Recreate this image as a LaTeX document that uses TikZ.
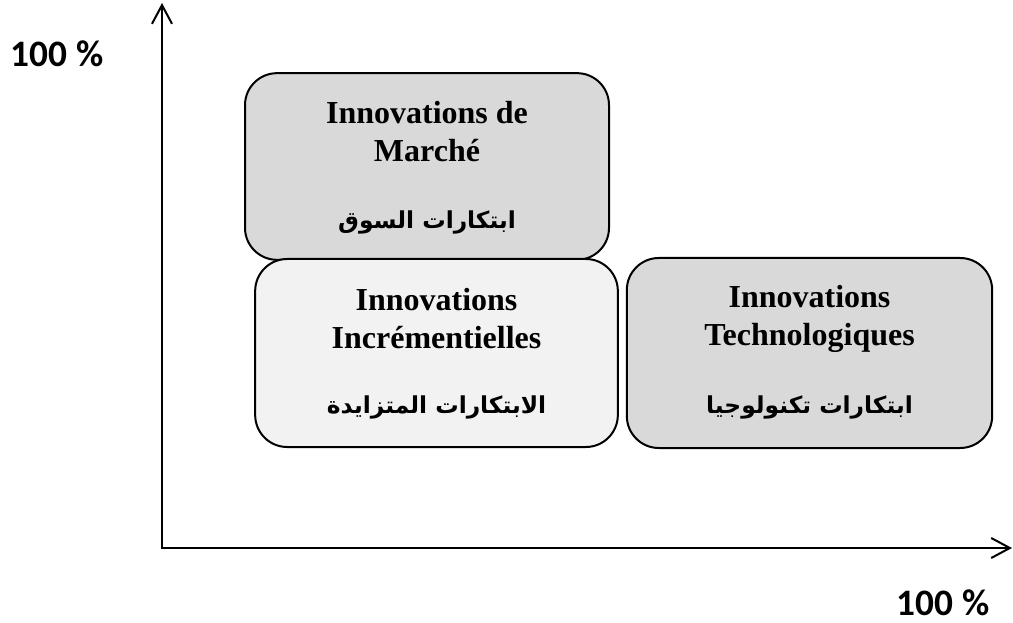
\documentclass[tikz,border=0pt]{standalone}
\usepackage{fontspec}
\setmainfont{Liberation Serif}
\newfontfamily\arabicfont[Script=Arabic]{DejaVu Sans}
\newfontfamily\axisfont{Carlito}
\TeXXeTstate=1
\usetikzlibrary{arrows.meta}
\definecolor{darkfill}{HTML}{D9D9D9}
\definecolor{lightfill}{HTML}{F2F2F2}

\begin{document}
\begin{tikzpicture}[x=0.75pt, y=-0.75pt,
			box/.style = {draw, line width=1.5pt, rounded corners=24pt, inner sep=0pt},
			title/.style = {font=\fontsize{24}{28.5}\selectfont\bfseries, align=center},
			arab/.style = {font=\arabicfont\bfseries\fontsize{17.5}{20}\selectfont},
			pct/.style = {font=\axisfont\bfseries\fontsize{28}{30}\selectfont},
			axis/.style = {line width=1.5pt, {Straight Barb[length=14pt, width=15pt]}-{Straight Barb[length=14pt, width=15pt]}}]

			\useasboundingbox (0,0) rectangle (1013,623);

			\coordinate (o) at (162,548);
			\coordinate (ytop) at (162,3);
			\coordinate (xend) at (1012,548);
			\draw[axis] (ytop) -- (o) -- (xend);

			\node[pct] (py) at (57,54) {100 \%};
			\node[pct] (px) at (943,603) {100 \%};

			\node[box, fill=darkfill, minimum width=273pt, minimum height=140pt] (march) at (427,166.5) {};
			\node[box, fill=lightfill, minimum width=272pt, minimum height=141pt] (incr) at (436.5,353) {};
			\node[box, fill=darkfill, minimum width=274pt, minimum height=142.5pt] (tech) at (809.5,353) {};

			\node[title] (t1) at (427,132) {Innovations de\\Marché};
			\node[title] (t2) at (436.5,319) {Innovations\\Incrémentielles};
			\node[title] (t3) at (809.5,319) {Innovations\\Technologiques};

			\node[arab] (a1) at (427,222) {\beginR ابتكارات السوق\endR};
			\node[arab] (a2) at (436.5,407) {\beginR الابتكارات المتزايدة\endR};
			\node[arab] (a3) at (809.5,407) {\beginR ابتكارات تكنولوجيا\endR};

		\end{tikzpicture}
\end{document}
